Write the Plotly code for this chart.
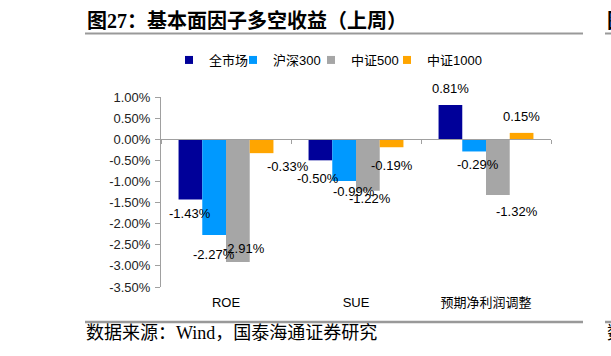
import plotly.graph_objects as go

# ---------------- data ----------------
categories = ["ROE", "SUE", "预期净利润调整"]
series_names = ["全市场", "沪深300", "中证500", "中证1000"]
s_all = [-1.43, -0.50, 0.81]
s_hs300 = [-2.27, -0.99, -0.29]
s_zz500 = [-2.91, -1.22, -1.32]
s_zz1000 = [-0.33, -0.19, 0.15]
y_ticks = [1.0, 0.5, 0.0, -0.5, -1.0, -1.5, -2.0, -2.5, -3.0, -3.5]
y_tick_labels = ["1.00%", "0.50%", "0.00%", "-0.50%", "-1.00%", "-1.50%",
                 "-2.00%", "-2.50%", "-3.00%", "-3.50%"]
title_text = "图27：基本面因子多空收益（上周）"
source_text = "数据来源：Wind，国泰海通证券研究"

# ---------------- style ----------------
W, H = 611, 356
L, R, T, B = 161, 60, 97, 69
PW, PH = W - L - R, H - T - B
colors = ["#000099", "#0099FF", "#A6A6A6", "#FFA500"]
bargap = 0.27
sans = "Liberation Sans, Arial, Noto Sans CJK SC"
serif = "Liberation Serif, Noto Sans CJK SC"
axis_col = "#A0A0A0"
legend_widths = [19, 33, 31, 50]

# label offsets (px) relative to bar centre / bar end, per series, per category
label_dx = [[0, -2, 0], [0, 10, 4], [6, 2, 19], [26, 0, 0]]
label_dy = [[-14, -18, 17], [-19, -10, -13], [14, -8, -17], [-13, -18, 16]]


def px_x(px):
    return (px - L) / PW


def px_y(py):
    return 1 - (py - T) / PH


series = [s_all, s_hs300, s_zz500, s_zz1000]
fig = go.Figure()
for name, vals, col in zip(series_names, series, colors):
    fig.add_trace(go.Bar(x=categories, y=vals, name=name, marker_color=col,
                         marker_line_width=0, showlegend=False))
# legend entries (small square markers)
for name, col, lw in zip(series_names, colors, legend_widths):
    fig.add_trace(go.Scatter(x=[None], y=[None], mode="markers", name=name,
                             legendwidth=lw,
                             marker=dict(symbol="square", size=8, color=col)))
# helper trace for the zero-line axis
fig.add_trace(go.Scatter(x=categories, y=[None] * len(categories), xaxis="x2",
                         showlegend=False, hoverinfo="skip", mode="markers"))

ymin, ymax = y_ticks[-1], y_ticks[0]
n_s = len(series)
bar_px = PW / len(categories) * (1 - bargap) / n_s
annotations = []
for i, vals in enumerate(series):
    for j, v in enumerate(vals):
        annotations.append(dict(
            x=categories[j], y=v, xref="x", yref="y",
            text=f"{v:.2f}%", showarrow=False,
            xshift=(i - (n_s - 1) / 2) * bar_px + label_dx[i][j],
            yshift=label_dy[i][j],
            font=dict(family=sans, size=13, color="#000000"),
            xanchor="center", yanchor="middle"))

annotations.append(dict(x=px_x(84), y=px_y(333), xref="paper", yref="paper",
                        text=source_text, showarrow=False, xanchor="left",
                        yanchor="middle",
                        font=dict(family=serif, size=18, color="#000000")))
# fragments of the neighbouring panel at the right edge
annotations.append(dict(x=px_x(605), y=px_y(21), xref="paper", yref="paper",
                        text="<b>图</b>", showarrow=False, xanchor="left",
                        yanchor="middle",
                        font=dict(family=serif, size=20, color="#000000")))
annotations.append(dict(x=px_x(605), y=px_y(333), xref="paper", yref="paper",
                        text="数", showarrow=False, xanchor="left",
                        yanchor="middle",
                        font=dict(family=serif, size=18, color="#000000")))

shapes = [
    dict(type="line", xref="paper", yref="paper", x0=px_x(85), x1=px_x(583),
         y0=px_y(33.5), y1=px_y(33.5), line=dict(color="#999999", width=2)),
    dict(type="line", xref="paper", yref="paper", x0=px_x(85), x1=px_x(583),
         y0=px_y(322), y1=px_y(322), line=dict(color="#999999", width=2.5)),
    dict(type="line", xref="paper", yref="paper", x0=px_x(605), x1=px_x(620),
         y0=px_y(33.5), y1=px_y(33.5), line=dict(color="#999999", width=2)),
    dict(type="line", xref="paper", yref="paper", x0=px_x(605), x1=px_x(620),
         y0=px_y(322), y1=px_y(322), line=dict(color="#999999", width=2.5)),
]

fig.update_layout(
    width=W, height=H,
    margin=dict(l=L, r=R, t=T, b=B, pad=0),
    paper_bgcolor="white", plot_bgcolor="white",
    barmode="group", bargap=bargap, bargroupgap=0,
    title=dict(text=f"<b>{title_text}</b>", xref="container", yref="container",
               x=87 / W, y=1 - 21 / H, xanchor="left", yanchor="middle",
               font=dict(family=serif, size=20, color="#000000")),
    legend=dict(orientation="h", xref="container", yref="container",
                x=169 / W, y=1 - 60 / H, xanchor="left", yanchor="middle",
                font=dict(family=sans, size=13, color="#000000"),
                itemwidth=30, bgcolor="rgba(0,0,0,0)"),
    xaxis=dict(type="category", categoryorder="array", categoryarray=categories,
               range=[-0.5, len(categories) - 0.5], showline=False, ticks="",
               showgrid=False, zeroline=False, ticklabelstandoff=6,
               automargin=False,
               tickfont=dict(family=sans, size=13, color="#000000")),
    xaxis2=dict(type="category", categoryorder="array", categoryarray=categories,
                range=[-0.5, len(categories) - 0.5], overlaying="x", anchor="free",
                position=(0 - ymin) / (ymax - ymin), side="bottom",
                showline=True, linecolor=axis_col, linewidth=1,
                ticks="outside", ticklen=4, tickcolor=axis_col,
                tickson="boundaries", showticklabels=False, showgrid=False,
                zeroline=False),
    yaxis=dict(range=[ymin, ymax], tickvals=y_ticks, ticktext=y_tick_labels,
               showline=True, linecolor=axis_col, linewidth=1,
               ticks="outside", ticklen=5, tickcolor=axis_col,
               showgrid=False, zeroline=False, ticklabelstandoff=2,
               automargin=False,
               tickfont=dict(family=sans, size=13, color="#222222")),
    annotations=annotations, shapes=shapes,
)

fig.write_html("out.html", config={"displayModeBar": False},
               post_script="document.body.style.margin='0';"
                           "document.body.style.overflow='hidden';")
